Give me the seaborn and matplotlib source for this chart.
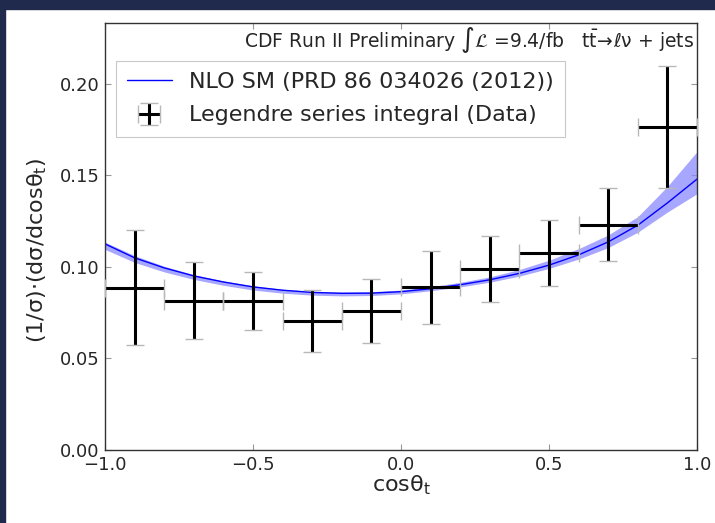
import numpy as np
import pandas as pd
import matplotlib
matplotlib.use("Agg")
import matplotlib.pyplot as plt
import seaborn as sns
from matplotlib.patches import Rectangle

# ---- data ----
bin_centers = [-0.9, -0.7, -0.5, -0.3, -0.1, 0.1, 0.3, 0.5, 0.7, 0.9]
bin_halfwidth = [0.1] * 10
data_vals = [0.0887, 0.0816, 0.0814, 0.0707, 0.0758, 0.0889, 0.0987, 0.1075, 0.1230, 0.1765]
data_err = [0.0316, 0.0210, 0.0160, 0.0169, 0.0176, 0.0200, 0.0180, 0.0180, 0.0199, 0.0332]

curve_x = [-1.0, -0.9, -0.8, -0.7, -0.6, -0.5, -0.4, -0.3, -0.2, -0.1, 0.0,
           0.1, 0.2, 0.3, 0.4, 0.5, 0.6, 0.7, 0.8, 0.9, 1.0]
curve_y = [0.1126, 0.1050, 0.0995, 0.0951, 0.0918, 0.0891, 0.0873, 0.0861, 0.0856, 0.0857, 0.0865,
           0.0881, 0.0903, 0.0930, 0.0965, 0.1010, 0.1066, 0.1137, 0.1228, 0.1350, 0.1480]
band_lo = [0.1096, 0.1025, 0.0973, 0.0932, 0.0900, 0.0874, 0.0857, 0.0846, 0.0842, 0.0844, 0.0853,
           0.0870, 0.0891, 0.0917, 0.0950, 0.0992, 0.1043, 0.1106, 0.1190, 0.1300, 0.1400]
band_hi = [0.1136, 0.1062, 0.1004, 0.0958, 0.0924, 0.0897, 0.0878, 0.0867, 0.0863, 0.0865, 0.0874,
           0.0892, 0.0916, 0.0946, 0.0986, 0.1037, 0.1100, 0.1175, 0.1275, 0.1440, 0.1630]

x_ticks = [-1.0, -0.5, 0.0, 0.5, 1.0]
y_ticks = [0.00, 0.05, 0.10, 0.15, 0.20]

sns.set_style("ticks")
plt.rcParams["font.family"] = ["DejaVu Sans"]
plt.rcParams["mathtext.default"] = "regular"

W, H = 715, 523
fig = plt.figure(figsize=(W / 100, H / 100), dpi=100)
fig.patch.set_facecolor("white")
navy = "#1f2a4c"
fig.patches.append(Rectangle((0, 0), 5 / W, 1, transform=fig.transFigure, color=navy, zorder=0))
fig.patches.append(Rectangle((0, 1 - 9 / H), 1, 9 / H, transform=fig.transFigure, color=navy, zorder=0))

ax = fig.add_axes([105 / W, (H - 450) / H, 592 / W, 427 / H])

curve_df = pd.DataFrame({"x": curve_x, "y": curve_y})
ax.fill_between(curve_x, band_lo, band_hi, color="#8a8aff", alpha=0.75, linewidth=0, zorder=1)
sns.lineplot(data=curve_df, x="x", y="y", ax=ax, color="blue", linewidth=1.0,
             label="NLO SM (PRD 86 034026 (2012))", zorder=2)

eb = ax.errorbar(bin_centers, data_vals, yerr=data_err, xerr=bin_halfwidth, fmt="none",
                 ecolor="black", elinewidth=2.2, capsize=6.5, capthick=1,
                 label="Legendre series integral (Data)", zorder=3)
for cap in eb[1]:
    cap.set_markeredgecolor("#b8b8b8")
    cap.set_color("#b8b8b8")

ax.set_xlim(-1.0, 1.0)
ax.set_ylim(0.0, 0.2333)
ax.set_xticks(x_ticks)
ax.set_yticks(y_ticks)
ax.set_xticklabels([f"{t:.1f}".replace("-", "\u2212") for t in x_ticks])
ax.set_yticklabels([f"{t:.2f}" for t in y_ticks])
ax.tick_params(direction="in", length=4, width=0.8, color="#999999",
               top=True, right=True, labelsize=13, pad=4)
for s in ax.spines.values():
    s.set_linewidth(1.0)
    s.set_color("#333333")

ax.set_xlabel(r"cos$\theta_t$", fontsize=16, labelpad=0)
ax.set_ylabel(r"(1/$\sigma$)$\cdot$(d$\sigma$/dcos$\theta_t$)", fontsize=16)
ax.yaxis.set_label_coords(-0.095, 0.468)

ax.text(0.995, 0.96, r"CDF Run II Preliminary $\int\mathcal{L}$ =9.4/fb   $t\bar{t}\!\rightarrow\!\ell\nu$ + jets",
        transform=ax.transAxes, ha="right", va="center", fontsize=13.5)

leg = ax.legend(loc="upper left", bbox_to_anchor=(0.0186, 0.911), borderaxespad=0,
                fontsize=16, frameon=True, fancybox=False, edgecolor="#bbbbbb",
                handlelength=2.0, handletextpad=0.8, borderpad=0.5, labelspacing=0.6)
leg.get_frame().set_linewidth(0.8)

fig.savefig("out.png", dpi=100)
